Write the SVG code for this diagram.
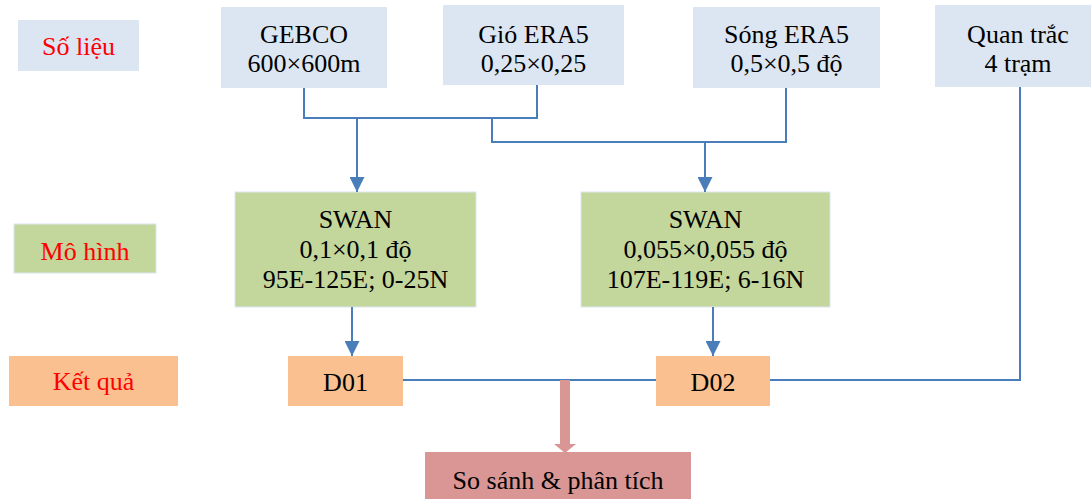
<svg xmlns="http://www.w3.org/2000/svg" width="1091" height="499" viewBox="0 0 1091 499">
<defs>
<style>
text{font-family:"Liberation Serif","Times New Roman",serif;font-size:26px;fill:#000;text-anchor:middle}
.lbl{fill:#ff0000}
.blue{fill:#dce6f2}
.green{fill:#c3d69b;stroke:#dce6f2;stroke-width:1}
.orange{fill:#fac090}
.pink{fill:#d99694}
.con{fill:none;stroke:#4a7ebb;stroke-width:2}
</style>
<marker id="ah" viewBox="0 0 10 10" refX="10" refY="5" markerWidth="7.5" markerHeight="7.5" markerUnits="strokeWidth" orient="auto">
<path d="M0,0 L10,5 L0,10 z" fill="#4a7ebb"/>
</marker>
</defs>
<rect width="1091" height="499" fill="#ffffff"/>

<g id="lbl-solieu"><rect class="blue" x="18" y="20" width="121" height="51"/><text class="lbl" x="78.5" y="55">Số liệu</text></g>
<g id="lbl-mohinh"><rect class="green" x="14" y="224" width="142" height="49"/><text class="lbl" x="85" y="260">Mô hình</text></g>
<g id="lbl-ketqua"><rect class="orange" x="9" y="356" width="169" height="50"/><text class="lbl" x="93.5" y="390">Kết quả</text></g>

<g id="gebco"><rect class="blue" x="221" y="7" width="166" height="81"/><text x="304" y="43">GEBCO</text><text x="304" y="72">600×600m</text></g>
<g id="gio"><rect class="blue" x="443" y="5" width="181" height="80"/><text x="533.5" y="43">Gió ERA5</text><text x="533.5" y="72">0,25×0,25</text></g>
<g id="song"><rect class="blue" x="693" y="7" width="187" height="81"/><text x="786.5" y="43">Sóng ERA5</text><text x="786.5" y="72">0,5×0,5 độ</text></g>
<g id="quantrac"><rect class="blue" x="935" y="5" width="166" height="82"/><text x="1018" y="43">Quan trắc</text><text x="1018" y="72">4 trạm</text></g>

<g id="swan1"><rect class="green" x="235" y="192" width="241" height="115"/><text x="355.5" y="228">SWAN</text><text x="355.5" y="258">0,1×0,1 độ</text><text x="355.5" y="288">95E-125E; 0-25N</text></g>
<g id="swan2"><rect class="green" x="581" y="192" width="249" height="115"/><text x="705.5" y="228">SWAN</text><text x="705.5" y="258">0,055×0,055 độ</text><text x="705.5" y="288">107E-119E; 6-16N</text></g>

<g id="d01"><rect class="orange" x="288" y="356" width="115" height="50"/><text x="345.5" y="391">D01</text></g>
<g id="d02"><rect class="orange" x="656" y="356" width="114" height="50"/><text x="713" y="391">D02</text></g>

<g id="sosanh"><rect class="pink" x="425" y="452" width="266" height="60"/><text x="558" y="489">So sánh &amp; phân tích</text></g>

<g id="connectors">
<path class="con" d="M304,88 V118 H537 V85"/>
<path class="con" d="M357,118 V192" marker-end="url(#ah)"/>
<path class="con" d="M492,118 V142 H786 V88"/>
<path class="con" d="M705,142 V192" marker-end="url(#ah)"/>
<path class="con" d="M352,307 V356" marker-end="url(#ah)"/>
<path class="con" d="M713,307 V356" marker-end="url(#ah)"/>
<path class="con" d="M403,380 H656"/>
<path class="con" d="M770,380 H1020 V87"/>
<path class="pink" d="M560,380 H570 V444 H576 L565,453 L554,444 H560 Z"/>
</g>
</svg>
